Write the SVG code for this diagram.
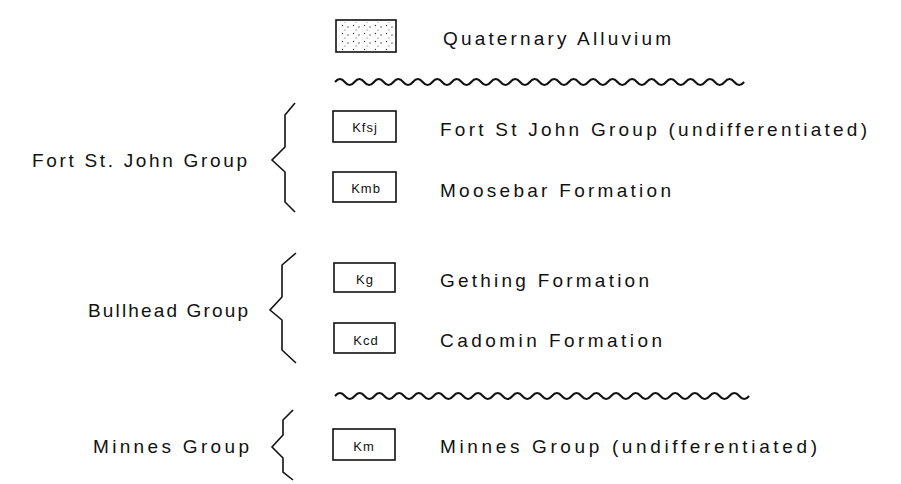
<svg xmlns="http://www.w3.org/2000/svg" width="901" height="484" viewBox="0 0 901 484">
<style>
.lbl{font-family:"Liberation Sans",Arial,sans-serif;font-size:19px;fill:#111}
.code{font-family:"Liberation Sans",Arial,sans-serif;font-size:13px;fill:#111;text-anchor:middle;letter-spacing:1px}
.box{fill:#fff;stroke:#111;stroke-width:1.6}
.brace{fill:none;stroke:#111;stroke-width:1.6;stroke-linejoin:miter}
.wave{fill:none;stroke:#111;stroke-width:2}
</style>
<defs>
<pattern id="dots" width="11" height="8" patternUnits="userSpaceOnUse">
<circle cx="1.5" cy="1.5" r="0.65" fill="#333"/>
<circle cx="7" cy="3" r="0.65" fill="#333"/>
<circle cx="4" cy="6" r="0.55" fill="#333"/>
</pattern>
</defs>
<rect width="901" height="484" fill="#fff"/>

<g id="alluvium">
<rect x="336" y="20" width="60" height="32" class="box"/>
<rect x="338" y="22" width="56" height="28" fill="url(#dots)"/>
<text x="443" y="45" class="lbl" textLength="228" lengthAdjust="spacing">Quaternary Alluvium</text>
</g>

<g id="fort-st-john-group">
<text x="32" y="167" class="lbl" textLength="215" lengthAdjust="spacing">Fort St. John Group</text>
</g>
<g id="kfsj">
<rect x="333" y="111" width="63" height="31" class="box"/>
<text x="365" y="132" class="code">Kfsj</text>
<text x="440" y="136" class="lbl" textLength="427" lengthAdjust="spacing">Fort St John Group (undifferentiated)</text>
</g>
<g id="kmb">
<rect x="333" y="172" width="63" height="30" class="box"/>
<text x="366" y="193" class="code">Kmb</text>
<text x="440" y="197" class="lbl" textLength="231" lengthAdjust="spacing">Moosebar Formation</text>
</g>

<g id="bullhead-group">
<text x="88" y="317" class="lbl" textLength="160" lengthAdjust="spacing">Bullhead Group</text>
</g>
<g id="kg">
<rect x="334" y="263" width="61" height="29" class="box"/>
<text x="365" y="284" class="code">Kg</text>
<text x="440" y="287" class="lbl" textLength="209" lengthAdjust="spacing">Gething Formation</text>
</g>
<g id="kcd">
<rect x="334" y="323" width="61" height="30" class="box"/>
<text x="366" y="345" class="code">Kcd</text>
<text x="440" y="347" class="lbl" textLength="222" lengthAdjust="spacing">Cadomin Formation</text>
</g>

<g id="minnes-group">
<text x="93" y="453" class="lbl" textLength="156" lengthAdjust="spacing">Minnes Group</text>
</g>
<g id="km">
<rect x="333" y="429" width="62" height="31" class="box"/>
<text x="364" y="451" class="code">Km</text>
<text x="440" y="453" class="lbl" textLength="377" lengthAdjust="spacing">Minnes Group (undifferentiated)</text>
</g>

<g id="connectors">
<path class="brace" d="M295 103 L285 115 L285 147 L272 160 L285 172 L285 202 L295 212"/>
<path class="brace" d="M296 253 L282 265 L282 297 L270 310 L282 320 L282 350 L296 363"/>
<path class="brace" d="M293 410 L283 420 L283 435 L272 447 L283 458 L283 472 L293 480"/>
<path class="wave" d="M335 82 q4.87 -6 9.74 0 t9.74 0 t9.74 0 t9.74 0 t9.74 0 t9.74 0 t9.74 0 t9.74 0 t9.74 0 t9.74 0 t9.74 0 t9.74 0 t9.74 0 t9.74 0 t9.74 0 t9.74 0 t9.74 0 t9.74 0 t9.74 0 t9.74 0 t9.74 0 t9.74 0 t9.74 0 t9.74 0 t9.74 0 t9.74 0 t9.74 0 t9.74 0 t9.74 0 t9.74 0 t9.74 0 t9.74 0 t9.74 0 t9.74 0 t9.74 0 t9.74 0 t9.74 0 t9.74 0 t9.74 0 t9.74 0 t9.74 0 t9.74 0"/>
<path class="wave" d="M335 396 q4.93 -6 9.86 0 t9.86 0 t9.86 0 t9.86 0 t9.86 0 t9.86 0 t9.86 0 t9.86 0 t9.86 0 t9.86 0 t9.86 0 t9.86 0 t9.86 0 t9.86 0 t9.86 0 t9.86 0 t9.86 0 t9.86 0 t9.86 0 t9.86 0 t9.86 0 t9.86 0 t9.86 0 t9.86 0 t9.86 0 t9.86 0 t9.86 0 t9.86 0 t9.86 0 t9.86 0 t9.86 0 t9.86 0 t9.86 0 t9.86 0 t9.86 0 t9.86 0 t9.86 0 t9.86 0 t9.86 0 t9.86 0 t9.86 0 t9.86 0"/>
</g>
</svg>
